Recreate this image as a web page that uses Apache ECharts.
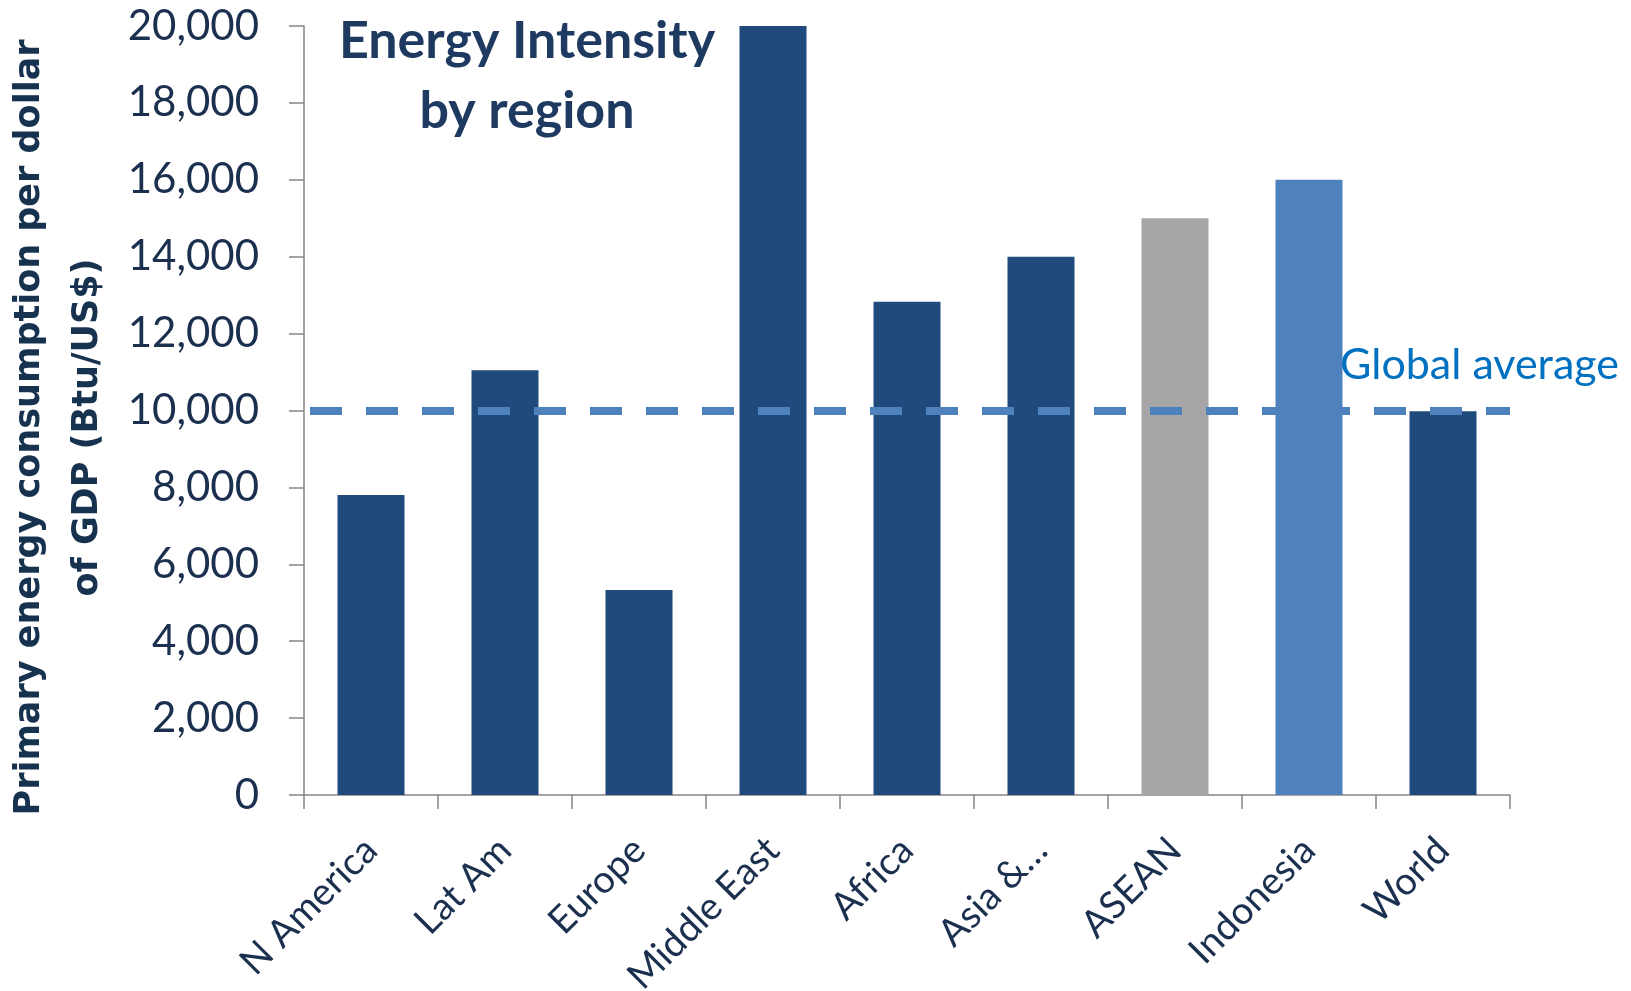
<!DOCTYPE html>
<html>
<head>
<meta charset="utf-8">
<script src="https://cdn.jsdelivr.net/npm/echarts@6/dist/echarts.min.js"></script>
<style>html,body{margin:0;padding:0;background:#fff}#c{width:1631px;height:991px}</style>
</head>
<body>
<div id="c"></div>
<script>
const categories = ['N America', 'Lat Am', 'Europe', 'Middle East', 'Africa', 'Asia &…', 'ASEAN', 'Indonesia', 'World'];
const values = [7800, 11050, 5330, 20000, 12830, 14000, 15000, 16000, 9980];
const barColors = ['#204A7C', '#204A7C', '#204A7C', '#204A7C', '#204A7C', '#204A7C', '#A6A6A6', '#4F81BD', '#204A7C'];
const globalAverage = 10000;
const yTicks = { min: 0, max: 20000, interval: 2000 };

const chart = echarts.init(document.getElementById('c'));
const textColor = '#1B2F4F';
chart.setOption({
  animation: false,
  title: [
    {
      text: 'Energy Intensity\nby region',
      left: 522, top: 1, textAlign: 'center',
      textStyle: { fontFamily: 'Lato', fontWeight: 'bold', fontSize: 52, lineHeight: 70, color: '#1F3A60' }
    },
    {
      text: 'Global average',
      right: 7, top: 339,
      textStyle: { fontFamily: 'Lato', fontWeight: 'normal', fontSize: 43, color: '#0070C0' }
    }
  ],
  grid: { left: 304, right: 121, top: 26, bottom: 196, containLabel: false, outerBoundsMode: 'none' },
  xAxis: {
    type: 'category',
    data: categories,
    axisLine: { lineStyle: { color: '#868686', width: 1.5 } },
    axisTick: { show: true, alignWithLabel: false, length: 14, lineStyle: { color: '#868686', width: 1.5 } },
    axisLabel: { rotate: 45, margin: 49, fontFamily: 'Lato', fontSize: 38, color: textColor, interval: 0 }
  },
  yAxis: {
    type: 'value',
    min: yTicks.min, max: yTicks.max, interval: yTicks.interval,
    name: 'Primary energy consumption per dollar\nof GDP (Btu/US$)',
    nameLocation: 'middle',
    nameGap: 179,
    nameTextStyle: { fontFamily: 'DejaVu Sans', fontWeight: 'bold', fontSize: 35, lineHeight: 58, color: '#17324F', padding: [0, 34, 0, 0] },
    axisLine: { show: true, lineStyle: { color: '#868686', width: 1.5 } },
    axisTick: { show: true, length: 15, lineStyle: { color: '#868686', width: 1.5 } },
    splitLine: { show: false },
    axisLabel: {
      margin: 45, fontFamily: 'Lato', fontSize: 42, color: textColor,
      formatter: v => v.toLocaleString('en-US')
    }
  },
  series: [{
    type: 'bar',
    data: values.map((v, i) => ({ value: v, itemStyle: { color: barColors[i] } })),
    barWidth: '50%',
    markLine: {
      silent: true,
      symbol: 'none',
      label: { show: false },
      lineStyle: { color: '#4F81BD', width: 8, type: [32, 24], dashOffset: 50, opacity: 1 },
      data: [{ yAxis: globalAverage }]
    }
  }]
});
</script>
</body>
</html>
